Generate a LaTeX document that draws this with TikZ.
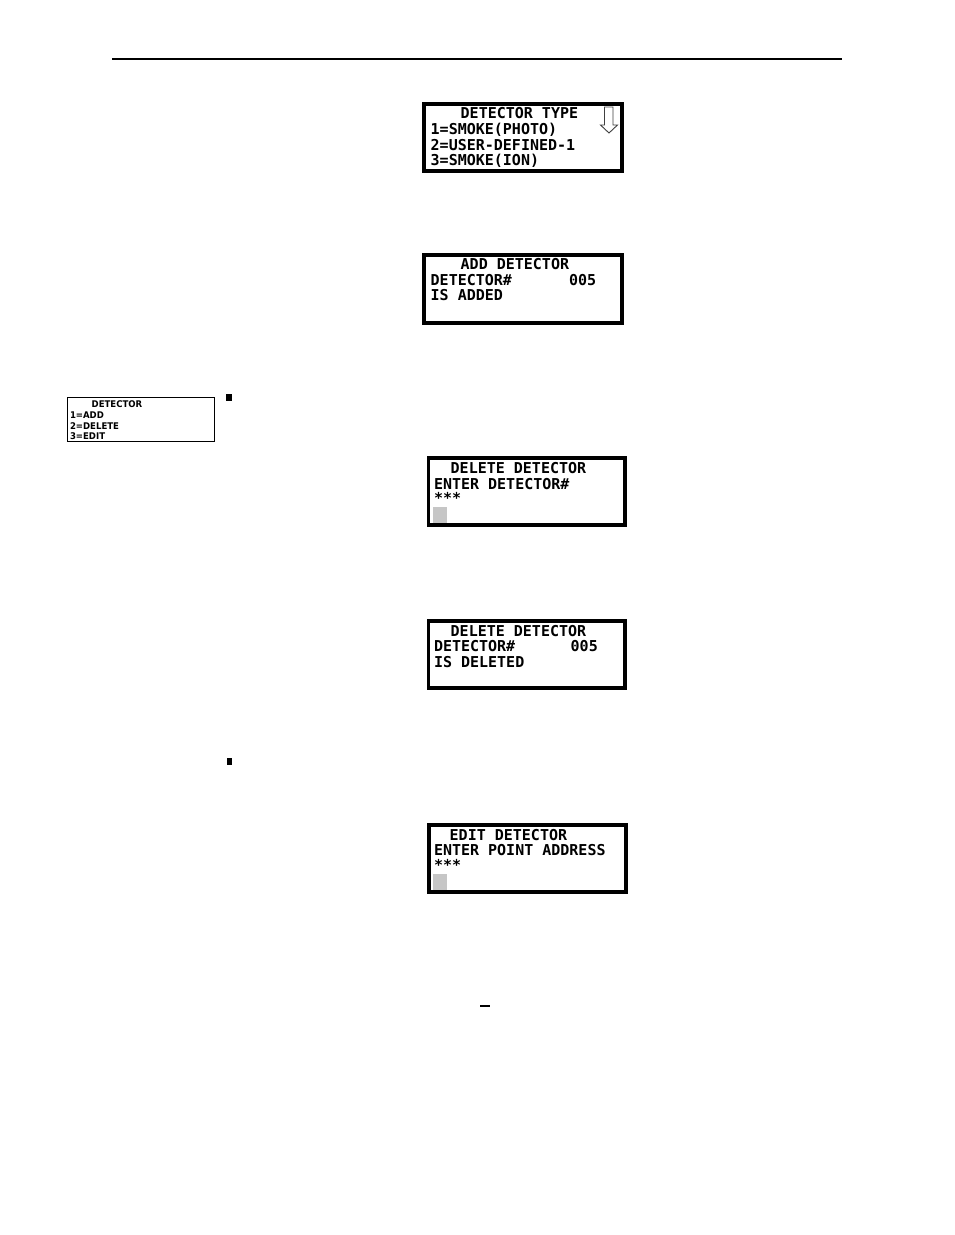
\documentclass[tikz,border=0pt]{standalone}
\usepackage{fontspec}
\newfontfamily\lcdfont{DejaVu Sans Mono}
\newfontfamily\menufont[FakeStretch=0.93]{DejaVu Sans}
\begin{document}
\begin{tikzpicture}[x=1pt,y=-1pt,
  lcdbox/.style={draw=black,line width=3.6pt,fill=white},
  menubox/.style={draw=black,line width=0.9pt},
  lcd/.style={anchor=base west,inner sep=0pt,font=\lcdfont\bfseries\fontsize{15}{15}\selectfont},
  menu/.style={anchor=base west,inner sep=0pt,font=\menufont\bfseries\fontsize{9.2}{9.2}\selectfont},
  cursorblk/.style={fill=gray!45,draw=none},
  bulletsq/.style={fill=black,draw=none}]
\useasboundingbox (0,0) rectangle (954,1235);
\fill[white] (0,0) rectangle (954,1235);
% header rule
\draw[line width=1.2pt] (112,59) -- (842,59);

% box 1: detector type
\draw[lcdbox] (423.8,103.8) rectangle (622.2,171.2);
\node[lcd] (t1a) at (460.5,118.3) {DETECTOR TYPE};
\node[lcd] (t1b) at (430.5,134.2) {1=SMOKE(PHOTO)};
\node[lcd] (t1c) at (430.5,150.0) {2=USER-DEFINED-1};
\node[lcd] (t1d) at (430.5,165.7) {3=SMOKE(ION)};
\draw[line width=0.9pt,draw=black!75,fill=white] (604.5,107) -- (613,107) -- (613,125) -- (617.5,125) -- (609,133) -- (600.5,125) -- (604.5,125) -- cycle;

% box 2: add detector
\draw[lcdbox] (423.8,254.8) rectangle (622.2,323.2);
\node[lcd] (t2a) at (460.5,269.3) {ADD DETECTOR};
\node[lcd] (t2b) at (430.5,285.0) {DETECTOR\#};
\node[lcd] (t2c) at (568.8,285.0) {005};
\node[lcd] (t2d) at (430.5,300.7) {IS ADDED};

% small menu box
\draw[menubox] (67.8,397.5) rectangle (214.5,441.8);
\node[menu] (m1) at (91.5,407.0) {DETECTOR};
\node[menu] (m2) at (69.8,418.7) {1=ADD};
\node[menu] (m3) at (69.8,429.3) {2=DELETE};
\node[menu] (m4) at (69.8,439.5) {3=EDIT};

% bullets
\fill[bulletsq] (226,394) rectangle (231.5,400.5);
\fill[bulletsq] (227.2,758.3) rectangle (232.3,765);

% box 4: delete detector (enter)
\draw[lcdbox] (428.5,457.8) rectangle (625.2,525.2);
\node[lcd] (t4a) at (450.5,473.5) {DELETE DETECTOR};
\node[lcd] (t4b) at (433.8,489.2) {ENTER DETECTOR\#};
\node[lcd] (t4c) at (433.8,503.0) {***};
\fill[cursorblk] (432.7,507) rectangle (446.7,523.3);

% box 5: delete detector (deleted)
\draw[lcdbox] (428.5,620.8) rectangle (625.2,688.2);
\node[lcd] (t5a) at (450.5,636.0) {DELETE DETECTOR};
\node[lcd] (t5b) at (433.8,651.7) {DETECTOR\#};
\node[lcd] (t5c) at (570.5,651.7) {005};
\node[lcd] (t5d) at (433.8,667.4) {IS DELETED};

% box 6: edit detector
\draw[lcdbox] (428.8,824.8) rectangle (626.2,892.2);
\node[lcd] (t6a) at (449.5,840.0) {EDIT DETECTOR};
\node[lcd] (t6b) at (433.8,855.7) {ENTER POINT ADDRESS};
\node[lcd] (t6c) at (433.8,870.0) {***};
\fill[cursorblk] (432.9,874) rectangle (447,890.3);

% small dash
\draw[line width=1.2pt] (480,1006) -- (490,1006);
\end{tikzpicture}
\end{document}
